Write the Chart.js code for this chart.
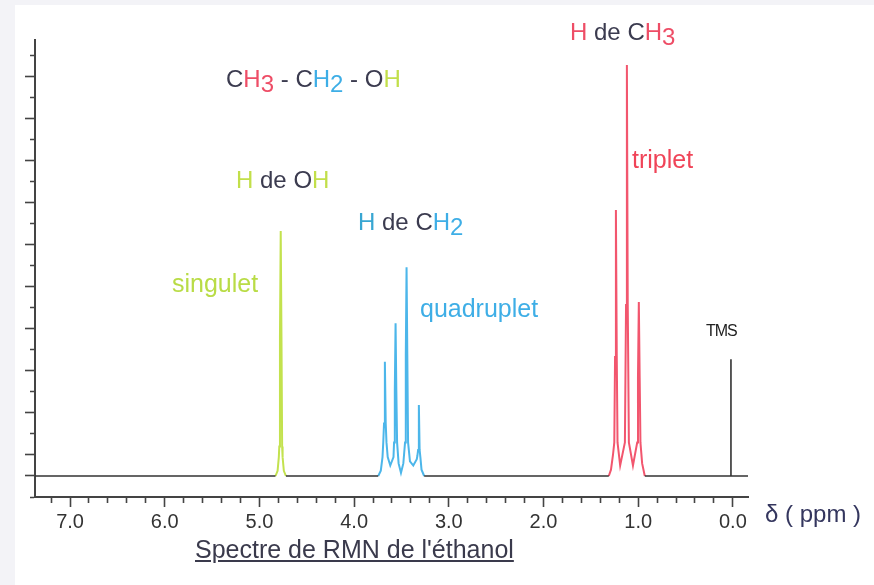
<!DOCTYPE html>
<html lang="fr">
<head>
    <meta charset="UTF-8">
    <script src="https://cdn.jsdelivr.net/npm/chart.js"></script>
    <style>
        body { margin: 0; background: #f3f3f7; font-family: "Liberation Sans", Arial, sans-serif; }
        #panel { position: absolute; left: 15px; top: 5px; right: 0; bottom: 0; background: #fff; }
        #nmr { position: absolute; left: 0; top: 0; }
        .lbl { position: absolute; line-height: 1; white-space: nowrap; color: #3b3b4f; }
        .sub { position: relative; top: 5px; }
        .red { color: #ee4d66; }
        .blue { color: #3eaee6; }
        .green { color: #c2df4a; }
    </style>
</head>
<body>
    <div id="panel"></div>
    <canvas id="nmr" width="874" height="585"></canvas>

    <div class="lbl" style="left:226px; top:67px; font-size:24px;">C<span class="red">H<span class="sub">3</span></span> - C<span class="blue">H<span class="sub">2</span></span> - O<span class="green">H</span></div>
    <div class="lbl" style="left:570px; top:20px; font-size:24px;"><span class="red">H</span> de C<span class="red">H<span class="sub">3</span></span></div>
    <div class="lbl" style="left:236px; top:168px; font-size:24px;"><span class="green">H</span> de O<span class="green">H</span></div>
    <div class="lbl" style="left:358px; top:210px; font-size:24px;"><span style="color:#38a6d2">H</span> de C<span class="blue">H<span class="sub">2</span></span></div>
    <div class="lbl red" style="left:632px; top:147px; font-size:25px; color:#f04458;">triplet</div>
    <div class="lbl green" style="left:172px; top:271px; font-size:25px; color:#b9dc46;">singulet</div>
    <div class="lbl blue" style="left:420px; top:296px; font-size:25px;">quadruplet</div>
    <div class="lbl" style="left:706px; top:323px; font-size:16px; color:#222; letter-spacing:-1px;">TMS</div>
    <div class="lbl" style="left:765px; top:502px; font-size:24px; color:#34365e;">δ ( ppm )</div>
    <div class="lbl" style="left:195px; top:537px; font-size:25px; text-decoration:underline; color:#3a3a4c;">Spectre de RMN de l'éthanol</div>

    <script>
        // déplacement chimique (ppm) et intensité (1 = ligne de base)
        var ppmOH = [4.83, 4.808, 4.795, 4.79, 4.783, 4.775, 4.767, 4.76, 4.755, 4.742, 4.72];
        var intOH = [1, 1.25, 1.9, 2.4, 7.6, 12.67, 7.6, 2.4, 1.9, 1.25, 1];

        var ppmCH2 = [3.745, 3.718, 3.7, 3.692, 3.684, 3.675, 3.666, 3.658, 3.645, 3.618,
                      3.584, 3.578, 3.57, 3.562, 3.554, 3.546, 3.53, 3.505,
                      3.48, 3.462, 3.454, 3.446, 3.438, 3.43, 3.41, 3.375,
                      3.338, 3.332, 3.324, 3.316, 3.308, 3.3, 3.288, 3.26];
        var intCH2 = [1, 1.25, 1.9, 2.6, 3.5, 6.44, 3.5, 2.6, 1.9, 1.5,
                      1.9, 2.6, 5.1, 8.27, 5.1, 2.6, 1.6, 1.15,
                      1.6, 2.6, 6.76, 10.94, 6.76, 2.6, 1.7, 1.5,
                      1.8, 1.95, 2.24, 4.38, 2.24, 1.9, 1.3, 1];

        var ppmCH3 = [1.31, 1.287, 1.266, 1.252, 1.244, 1.235, 1.226, 1.218, 1.19,
                      1.14, 1.128, 1.119, 1.11, 1.098, 1.055,
                      1.01, 1.002, 0.993, 0.984, 0.976, 0.958, 0.93];
        var intCH3 = [1, 1.3, 2.0, 2.6, 6.67, 13.67, 6.67, 2.6, 1.5,
                      2.6, 9.14, 20.57, 9.14, 2.6, 1.5,
                      2.6, 5.67, 9.29, 5.67, 2.6, 1.6, 1];

        // ligne de base + TMS (null = coupure sous les massifs colorés)
        var ppmBase = [7.37, 4.83, null, 4.72, 3.745, null, 3.26, 1.31, null, 0.93, 0.02, 0.02, 0.02, -0.16];
        var intBase = [1, 1, null, 1, 1, null, 1, 1, null, 1, 1, 6.56, 1, 1];

        var xMin = -0.16, xMax = 7.37;
        var yMin = 0, yMax = 21.76;

        var toPoints = function (xs, ys) {
            return xs.map((x, i) => ({ x: x, y: ys[i] }));
        };

        var axisColor = "#444";
        var isWhole = function (v) { return Math.abs(v - Math.round(v)) < 1e-6; };

        new Chart(document.getElementById("nmr"), {
            type: "scatter",
            data: {
                datasets: [
                    { label: "base", data: toPoints(ppmBase, intBase), borderColor: "#333", borderWidth: 1.6 },
                    { label: "OH", data: toPoints(ppmOH, intOH), borderColor: "#c3e24e" },
                    { label: "CH2", data: toPoints(ppmCH2, intCH2), borderColor: "#4cb6ea" },
                    { label: "CH3", data: toPoints(ppmCH3, intCH3), borderColor: "#f2566e" },
                ],
            },
            options: {
                responsive: false,
                animation: false,
                showLine: true,
                spanGaps: false,
                elements: {
                    point: { radius: 0 },
                    line: { borderWidth: 2, tension: 0 },
                },
                layout: { padding: { top: 40, right: 126, left: 0, bottom: 0 } },
                plugins: { legend: { display: false }, tooltip: { enabled: false } },
                scales: {
                    x: {
                        type: "linear",
                        reverse: true,
                        min: xMin,
                        max: xMax,
                        afterFit: (scale) => { scale.height = 88; },
                        border: { color: axisColor, width: 2 },
                        grid: {
                            drawOnChartArea: false,
                            tickLength: 10,
                            tickWidth: 1.6,
                            tickColor: axisColor,
                            // petites graduations : seulement la moitié proche de l'axe
                            tickBorderDash: (ctx) => (ctx.tick && isWhole(ctx.tick.value)) ? [] : [5, 30],
                        },
                        ticks: {
                            stepSize: 0.2,
                            includeBounds: false,
                            autoSkip: false,
                            maxRotation: 0,
                            padding: 3,
                            color: "#333",
                            font: { family: "Liberation Sans", size: 20 },
                            callback: (v) => isWhole(v) ? Math.round(v).toFixed(1) : "",
                        },
                    },
                    y: {
                        type: "linear",
                        min: yMin,
                        max: yMax,
                        afterFit: (scale) => { scale.width = 35; },
                        border: { color: axisColor, width: 2 },
                        grid: {
                            drawOnChartArea: false,
                            tickLength: 10,
                            tickWidth: 1.6,
                            tickColor: axisColor,
                            tickBorderDash: (ctx) => {
                                var v = ctx.tick ? Math.round(ctx.tick.value) : 0;
                                return (v == 1 || (v > 0 && v % 2 == 0)) ? [] : [0, 5, 30];
                            },
                        },
                        ticks: { stepSize: 1, includeBounds: false, display: false },
                    },
                },
            },
        });
    </script>
</body>
</html>
